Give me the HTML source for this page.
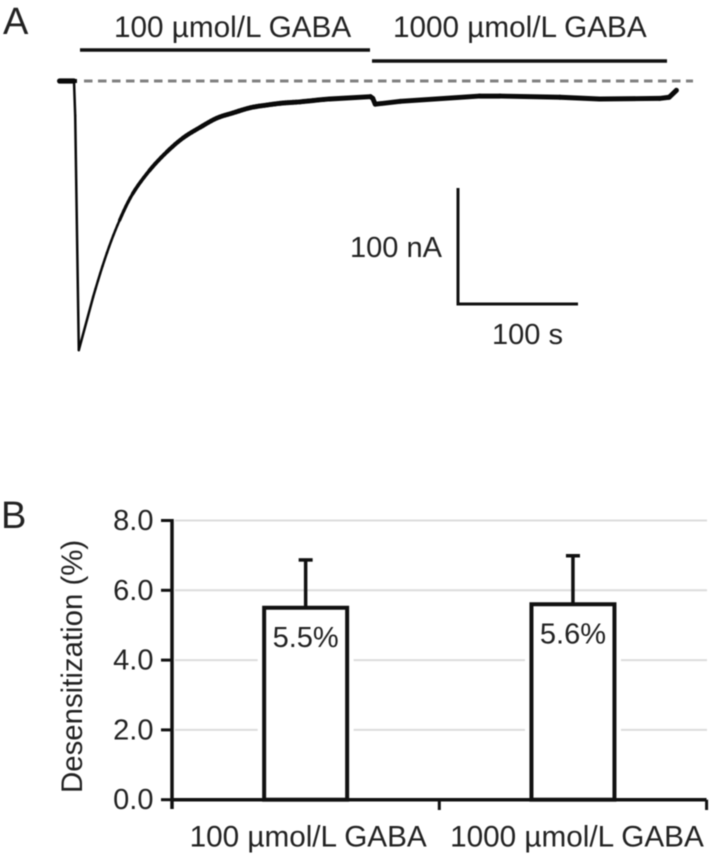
<!DOCTYPE html>
<html lang="en">
<head>
<meta charset="utf-8">
<title>GABA desensitization</title>
<style>
html,body{margin:0;padding:0;background:#fff;}
body{width:714px;height:855px;overflow:hidden;}
svg{display:block;filter:blur(0.55px);}
text{font-family:"Liberation Sans",Arial,sans-serif;font-size:29px;fill:#222;}
text.wide{font-size:29.7px;}
</style>
</head>
<body>
<svg id="figure" width="714" height="855" viewBox="0 0 714 855" xmlns="http://www.w3.org/2000/svg">
  <rect x="0" y="0" width="714" height="855" fill="#fff"/>
  <g id="panelA">
    <text x="3" y="34" style="font-size:38px">A</text>
    <text class="wide" x="114" y="37">100 µmol/L GABA</text>
    <text class="wide" x="393" y="37">1000 µmol/L GABA</text>
    <line x1="80" y1="50" x2="370" y2="50" stroke="#111" stroke-width="3.5"/>
    <line x1="372" y1="61" x2="667" y2="61" stroke="#111" stroke-width="3.5"/>
    <line x1="84" y1="81" x2="693" y2="81" stroke="#808080" stroke-width="3" stroke-dasharray="8.5 5.5"/>
    <text x="350" y="257">100 nA</text>
    <text x="492" y="344">100 s</text>
  </g>
  <g id="panelB">
    <text x="1" y="528" style="font-size:38px">B</text>
    <text transform="translate(82,793)  rotate(-90)" style="font-size:29.4px">Desensitization (%)</text>
  </g>
</svg>
<script>
// Panel A: whole-cell current trace
var traceTimes = [-12, 0, 1, 4, 16, 27.5, 38, 49, 63, 77.5, 91, 105, 119, 132.5, 147, 161, 174, 188, 213, 247, 249, 251, 272, 338, 355, 405, 438, 488, 496, 502];
var traceCurrents = [0, 0, -30, -232, -186, -148, -120, -97, -77, -61, -49, -40, -32, -27.5, -23, -20.7, -19, -18, -15.5, -13.5, -15, -20, -17.5, -13, -13, -14, -15.5, -15, -14, -8];
var scaleTime = [100];
var scaleCurrent = [100];

// Panel B: bar chart
var categories = ["100 µmol/L GABA", "1000 µmol/L GABA"];
var barValues = [5.5, 5.6];
var barLabels = ["5.5%", "5.6%"];
var errorTops = [6.87, 6.99];
var yTicks = [0, 2, 4, 6, 8];
var yTickLabels = ["0.0", "2.0", "4.0", "6.0", "8.0"];

var SVG_NS = "http://www.w3.org/2000/svg";
var panelA = document.getElementById("panelA");
var panelB = document.getElementById("panelB");

function make(parent, tag, attrs, text) {
  var el = document.createElementNS(SVG_NS, tag);
  for (var k in attrs) { el.setAttribute(k, attrs[k]); }
  if (text !== undefined) { el.textContent = text; }
  parent.appendChild(el);
  return el;
}

// Axis functions
function xTime(t) { return 74 + t * 1.2; }
function yCurrent(i) { return 81 - i * 1.16; }
function yValue(v) { return 799.7 - v * 34.9; }
function xCategory(c) { return 172 + (c + 0.5) * 267.3; }

// Stroke thins where the current is large, and on the fast drop
function traceWidth(a, b) {
  if (Math.abs(a - b) > 25) { return 2.5; }
  return Math.max(2.6, 5.2 - Math.abs((a + b) / 2) * 0.018);
}
function catmull(p0, p1, p2, p3, u) {
  return 0.5 * (2 * p1 + (p2 - p0) * u + (2 * p0 - 5 * p1 + 4 * p2 - p3) * u * u + (3 * p1 - p0 - 3 * p2 + p3) * u * u * u);
}
function traceSegment(t1, i1, t2, i2, w) {
  var seg = make(panelA, "line", {
    x1: xTime(t1), y1: yCurrent(i1), x2: xTime(t2), y2: yCurrent(i2),
    stroke: "#0a0a0a", "stroke-linecap": "round", "stroke-width": w
  });
  
  
}
var smoothSteps = 6;
for (var s = 0; s < traceTimes.length - 1; s++) {
  var w = traceWidth(traceCurrents[s], traceCurrents[s + 1]);
  var smooth = s >= 4 && s <= 17;
  if (!smooth) {
    traceSegment(traceTimes[s], traceCurrents[s], traceTimes[s + 1], traceCurrents[s + 1], w);
    continue;
  }
  var pt = traceTimes[s], pi = traceCurrents[s];
  for (var q = 1; q <= smoothSteps; q++) {
    var u = q / smoothSteps;
    var nt = catmull(traceTimes[s - 1], traceTimes[s], traceTimes[s + 1], traceTimes[s + 2], u);
    var ni = catmull(traceCurrents[s - 1], traceCurrents[s], traceCurrents[s + 1], traceCurrents[s + 2], u);
    traceSegment(pt, pi, nt, ni, w);
    pt = nt;
    pi = ni;
  }
}
var blob = make(panelA, "rect", {
  x: xTime(traceTimes[0]), y: yCurrent(0) - 2,
  width: xTime(traceTimes[1]) - xTime(traceTimes[0]) + 3, height: 4, fill: "#0a0a0a"
});



// Scale bars
var scaleV = make(panelA, "line", {
  x1: 458, x2: 458, y1: 304 - scaleCurrent[0] * 1.16, y2: 305.5,
  stroke: "#111", "stroke-width": 3
});


var scaleH = make(panelA, "line", {
  x1: 458, x2: 458 + scaleTime[0] * 1.2, y1: 304, y2: 304,
  stroke: "#111", "stroke-width": 3
});



// Gridlines
yTicks.forEach(function (tick) {
  if (tick === 0) { return; }
  var grid = make(panelB, "line", {
    x1: 175, x2: 707, y1: yValue(tick), y2: yValue(tick),
    stroke: "#dcdcdc", "stroke-width": 2
  });
  
  
});

// Bars with their white halo, error bars and printed values
barValues.forEach(function (v, c) {
  var cx = xCategory(c);
  var halo = make(panelB, "rect", {
    x: cx - 48, y: yValue(v) + 3, width: 96, height: yValue(0) - yValue(v) - 3, fill: "#fff"
  });
  
  
  var stem = make(panelB, "line", {
    x1: cx, x2: cx, y1: yValue(errorTops[c]), y2: yValue(v),
    stroke: "#111", "stroke-width": 3.5
  });
  
  
  var cap = make(panelB, "line", {
    x1: cx - 7, x2: cx + 7, y1: yValue(errorTops[c]), y2: yValue(errorTops[c]),
    stroke: "#111", "stroke-width": 3.5
  });
  
  
  var bar = make(panelB, "rect", {
    x: cx - 41.5, y: yValue(v), width: 83, height: yValue(0) - yValue(v),
    fill: "#fff", stroke: "#111", "stroke-width": 4
  });
  
  
  var valueLabel = make(panelB, "text", {
    x: cx, y: yValue(v) + 39, "text-anchor": "middle"
  }, barLabels[c]);
  
  
  var catLabel = make(panelB, "text", {
    x: cx + 2.5 + c * 1.5, y: 846.5, "text-anchor": "middle", "class": "wide"
  }, categories[c]);
  
  
});

// Y axis
var yAxis = make(panelB, "line", {
  x1: 172, x2: 172, y1: yValue(8) - 1.5, y2: 809, stroke: "#111", "stroke-width": 3.5
});


yTicks.forEach(function (tick, n) {
  var mark = make(panelB, "line", {
    x1: 161, x2: 172, y1: yValue(tick), y2: yValue(tick), stroke: "#111", "stroke-width": 3
  });
  
  
  var label = make(panelB, "text", {
    x: 153.5, y: yValue(tick) + 9.5, "text-anchor": "end"
  }, yTickLabels[n]);
  
  
});

// X axis
var xAxis = make(panelB, "line", {
  x1: 172, x2: xCategory(categories.length - 1) + 133.6, y1: yValue(0), y2: yValue(0),
  stroke: "#111", "stroke-width": 3.5
});


for (var e = 1; e <= categories.length; e++) {
  var xMark = make(panelB, "line", {
    x1: xCategory(e) - 133.65, x2: xCategory(e) - 133.65, y1: yValue(0), y2: 810,
    stroke: "#111", "stroke-width": 3
  });
  
  
}
</script>
</body>
</html>
